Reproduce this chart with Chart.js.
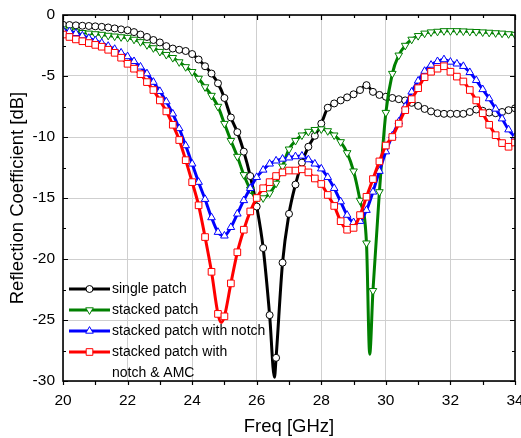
<!DOCTYPE html>
<html>
<head>
<meta charset="utf-8">
<script src="https://cdn.jsdelivr.net/npm/chart.js@4.4.0/dist/chart.umd.min.js"></script>
<style>
  html, body { margin: 0; padding: 0; background: #fff; }
  #chart { display: block; }
</style>
</head>
<body>
<canvas id="chart" width="521" height="438" style="width:521px;height:438px"></canvas>
<script>
// frequency points (GHz), one marker each
const freq = [20.0, 20.2, 20.4, 20.6, 20.8, 21.0, 21.2, 21.4, 21.6, 21.8,
              22.0, 22.2, 22.4, 22.6, 22.8, 23.0, 23.2, 23.4, 23.6, 23.8,
              24.0, 24.2, 24.4, 24.6, 24.8, 25.0, 25.2, 25.4, 25.6, 25.8,
              26.0, 26.2, 26.4, 26.6, 26.8, 27.0, 27.2, 27.4, 27.6, 27.8,
              28.0, 28.2, 28.4, 28.6, 28.8, 29.0, 29.2, 29.4, 29.6, 29.8,
              30.0, 30.2, 30.4, 30.6, 30.8, 31.0, 31.2, 31.4, 31.6, 31.8,
              32.0, 32.2, 32.4, 32.6, 32.8, 33.0, 33.2, 33.4, 33.6, 33.8, 34.0];

// reflection coefficient (dB)
const singlePatch = [-0.8, -0.82, -0.85, -0.88, -0.9, -0.93, -0.97, -1.02, -1.1, -1.18,
                     -1.25, -1.4, -1.6, -1.8, -2.05, -2.25, -2.55, -2.75, -2.85, -2.95,
                     -3.2, -3.65, -4.2, -4.8, -5.6, -6.8, -8.4, -9.6, -11.2, -13.2,
                     -15.7, -19.1, -24.6, -28.1, -20.3, -16.3, -13.9, -12.1, -10.8, -9.9,
                     -8.9, -7.6, -7.25, -7.0, -6.75, -6.5, -6.15, -5.75, -6.3, -6.55,
                     -6.7, -6.8, -6.9, -7.0, -7.2, -7.45, -7.7, -7.9, -8.05, -8.1,
                     -8.1, -8.1, -8.1, -7.95, -7.75, -7.85, -8.0, -8.05, -7.95, -7.8, -7.65];
const stackedPatch = [-1.15, -1.25, -1.35, -1.45, -1.5, -1.55, -1.6, -1.68, -1.74, -1.8,
                      -1.85, -2.0, -2.2, -2.45, -2.7, -3.0, -3.25, -3.5, -3.85, -4.25,
                      -4.65, -5.2, -5.9, -6.6, -7.5, -8.9, -10.3, -11.6, -13.1, -14.3,
                      -15.0, -15.0, -14.6, -13.8, -12.4, -11.0, -10.3, -9.85, -9.55, -9.4,
                      -9.35, -9.5, -9.85, -10.4, -11.3, -12.8, -15.2, -18.7, -22.6, -14.5,
                      -8.0, -4.8, -3.3, -2.5, -2.0, -1.7, -1.5, -1.4, -1.35, -1.3,
                      -1.3, -1.3, -1.32, -1.35, -1.37, -1.4, -1.43, -1.47, -1.5, -1.55, -1.6];
const stackedNotch = [-1.25, -1.35, -1.5, -1.7, -1.9, -2.1, -2.3, -2.55, -2.8, -3.1,
                      -3.4, -3.8, -4.25, -4.8, -5.5, -6.25, -7.1, -8.1, -9.3, -10.7,
                      -12.2, -13.7, -15.1, -16.6, -17.8, -18.1, -17.4, -16.3, -15.2, -14.2,
                      -13.3, -12.7, -12.2, -11.95, -11.8, -11.7, -11.6, -11.55, -11.85, -12.2,
                      -12.6, -13.3, -14.2, -15.3, -16.4, -17.0, -16.9, -16.0, -14.5, -12.8,
                      -11.2, -9.9, -8.75, -7.5, -6.3, -5.4, -4.6, -4.1, -3.8, -3.65,
                      -3.85, -4.0, -4.2, -4.7, -5.35, -6.1, -6.85, -7.7, -8.5, -9.4, -10.0];
const notchAmc = [-1.6, -1.8, -2.0, -2.15, -2.3, -2.45, -2.6, -2.85, -3.1, -3.5,
                  -4.0, -4.4, -4.85, -5.5, -6.15, -7.0, -7.9, -9.0, -10.25, -11.9,
                  -13.7, -15.6, -18.2, -21.05, -24.5, -24.7, -22.0, -19.45, -17.6, -16.1,
                  -15.0, -14.2, -13.7, -13.2, -12.9, -12.75, -12.75, -12.65, -12.9, -13.4,
                  -13.85, -14.75, -15.65, -16.9, -17.6, -17.45, -16.4, -14.9, -13.45, -12.0,
                  -10.7, -10.0, -8.9, -7.8, -6.9, -6.0, -5.1, -4.65, -4.4, -4.2,
                  -4.65, -5.05, -5.45, -6.15, -7.0, -8.05, -9.0, -9.85, -10.5, -10.8, -10.45];

// resonance minima between markers (no marker drawn)
const singleDipX = [26.55];
const singleDipY = [-29.7];
const stackedDipX = [29.5];
const stackedDipY = [-27.8];
const notchDipX = [25.0];
const notchDipY = [-18.1];
const amcDipX = [24.9];
const amcDipY = [-25.2];

const seriesLabels = ['single patch', 'stacked patch', 'stacked patch with notch',
                      ['stacked patch with', 'notch & AMC']];
const xMinor = [20, 21, 22, 23, 24, 25, 26, 27, 28, 29, 30, 31, 32, 33, 34];
const yMinor = [0, -2.5, -5, -7.5, -10, -12.5, -15, -17.5, -20, -22.5, -25, -27.5, -30];

const FONT = "'Liberation Sans', Arial, sans-serif";
const markerR = { circle: 3.5, triangle: 4.4, rect: 4.7 };

function buildPoints(xs, ys, extraX, extraY) {
    const pts = xs.map((f, i) => ({ x: f, y: ys[i], marker: true }));
    extraX.forEach((f, i) => pts.push({ x: f, y: extraY[i], marker: false }));
    return pts.sort((a, b) => a.x - b.x);
}

function makeSet(label, pts, color, style, rotation, order) {
    return {
        label: label,
        data: pts,
        borderColor: color,
        borderWidth: 3,
        pointStyle: style,
        pointRotation: rotation,
        pointBackgroundColor: '#fff',
        pointBorderColor: color,
        pointBorderWidth: 1,
        pointRadius: ctx => (ctx.raw && ctx.raw.marker === false) ? 0 : markerR[style],
        cubicInterpolationMode: 'monotone',
        fill: false,
        order: order
    };
}

function drawMarker(ctx, style, rotation, x, y, r) {
    ctx.beginPath();
    if (style === 'circle') {
        ctx.arc(x, y, r, 0, Math.PI * 2);
    } else if (style === 'triangle') {
        let rad = rotation * Math.PI / 180;
        ctx.moveTo(x + Math.sin(rad) * r, y - Math.cos(rad) * r);
        rad += Math.PI * 2 / 3;
        ctx.lineTo(x + Math.sin(rad) * r, y - Math.cos(rad) * r);
        rad += Math.PI * 2 / 3;
        ctx.lineTo(x + Math.sin(rad) * r, y - Math.cos(rad) * r);
        ctx.closePath();
    } else {
        const s = r * Math.SQRT1_2;
        ctx.rect(x - s, y - s, 2 * s, 2 * s);
    }
    ctx.fill();
    ctx.stroke();
}

// axis frame with inward ticks, like the origin plot
const framePlugin = {
    id: 'frame',
    afterDraw(chart) {
        const { ctx, chartArea: a, scales: { x, y } } = chart;
        ctx.save();
        ctx.strokeStyle = '#000';
        ctx.lineWidth = 1.2;
        ctx.beginPath();
        xMinor.forEach(f => {
            const px = Math.round(x.getPixelForValue(f)) + 0.5;
            const len = f % 2 === 0 ? 5 : 3;
            ctx.moveTo(px, a.bottom); ctx.lineTo(px, a.bottom + 4);
            ctx.moveTo(px, a.top); ctx.lineTo(px, a.top + len);
        });
        yMinor.forEach(v => {
            const py = Math.round(y.getPixelForValue(v)) + 0.5;
            const len = v % 5 === 0 ? 5 : 3;
            ctx.moveTo(a.left, py); ctx.lineTo(a.left + len, py);
            ctx.moveTo(a.right, py); ctx.lineTo(a.right - len, py);
        });
        ctx.stroke();
        ctx.lineWidth = 1.6;
        ctx.strokeRect(a.left, a.top, a.right - a.left, a.bottom - a.top);
        ctx.restore();
    }
};

const legendPlugin = {
    id: 'patchLegend',
    afterDraw(chart) {
        const ctx = chart.ctx;
        ctx.save();
        ctx.font = '14px ' + FONT;
        ctx.textBaseline = 'middle';
        let rowY = 289;
        chart.data.datasets.forEach(ds => {
            ctx.strokeStyle = ds.borderColor;
            ctx.lineWidth = 3;
            ctx.beginPath();
            ctx.moveTo(69, rowY);
            ctx.lineTo(110, rowY);
            ctx.stroke();
            ctx.fillStyle = '#fff';
            ctx.lineWidth = 1;
            drawMarker(ctx, ds.pointStyle, ds.pointRotation, 89.5, rowY, markerR[ds.pointStyle]);
            ctx.fillStyle = '#000';
            const lines = Array.isArray(ds.label) ? ds.label : [ds.label];
            lines.forEach((t, i) => ctx.fillText(t, 112, rowY + i * 21));
            rowY += 21;
        });
        ctx.restore();
    }
};

const datasets = [
    makeSet(seriesLabels[0], buildPoints(freq, singlePatch, singleDipX, singleDipY), '#000000', 'circle', 0, 4),
    makeSet(seriesLabels[1], buildPoints(freq, stackedPatch, stackedDipX, stackedDipY), '#008000', 'triangle', 180, 3),
    makeSet(seriesLabels[2], buildPoints(freq, stackedNotch, notchDipX, notchDipY), '#0000ff', 'triangle', 0, 2),
    makeSet(seriesLabels[3], buildPoints(freq, notchAmc, amcDipX, amcDipY), '#ff0000', 'rect', 0, 1)
];

new Chart(document.getElementById('chart'), {
    type: 'line',
    data: { datasets: datasets },
    options: {
        responsive: false,
        animation: false,
        devicePixelRatio: 1,
        layout: { padding: { top: 15, right: 6, left: 0, bottom: 0 } },
        plugins: {
            legend: { display: false },
            tooltip: { enabled: false }
        },
        scales: {
            x: {
                type: 'linear',
                min: 20,
                max: 34,
                ticks: { stepSize: 2, color: '#000', padding: 10, maxRotation: 0,
                         font: { family: FONT, size: 15.5 } },
                grid: { color: '#cfcfcf', lineWidth: 1, drawTicks: false },
                border: { display: false },
                title: { display: true, text: 'Freq [GHz]', color: '#000',
                         font: { family: FONT, size: 18.5 }, padding: { top: 0, bottom: 0 } },
                afterFit: s => { s.height = 57; s.paddingLeft = 0; s.paddingRight = 0; }
            },
            y: {
                min: -30,
                max: 0,
                ticks: { stepSize: 5, color: '#000', padding: 8,
                         font: { family: FONT, size: 15.5 } },
                grid: { color: '#cfcfcf', lineWidth: 1, drawTicks: false },
                border: { display: false },
                title: { display: true, text: 'Reflection Coefficient [dB]', color: '#000',
                         font: { family: FONT, size: 18.5 }, padding: { top: 7, bottom: 0 } },
                afterFit: s => { s.width = 63; s.paddingTop = 0; s.paddingBottom = 0; }
            }
        }
    },
    plugins: [framePlugin, legendPlugin]
});
</script>
</body>
</html>
